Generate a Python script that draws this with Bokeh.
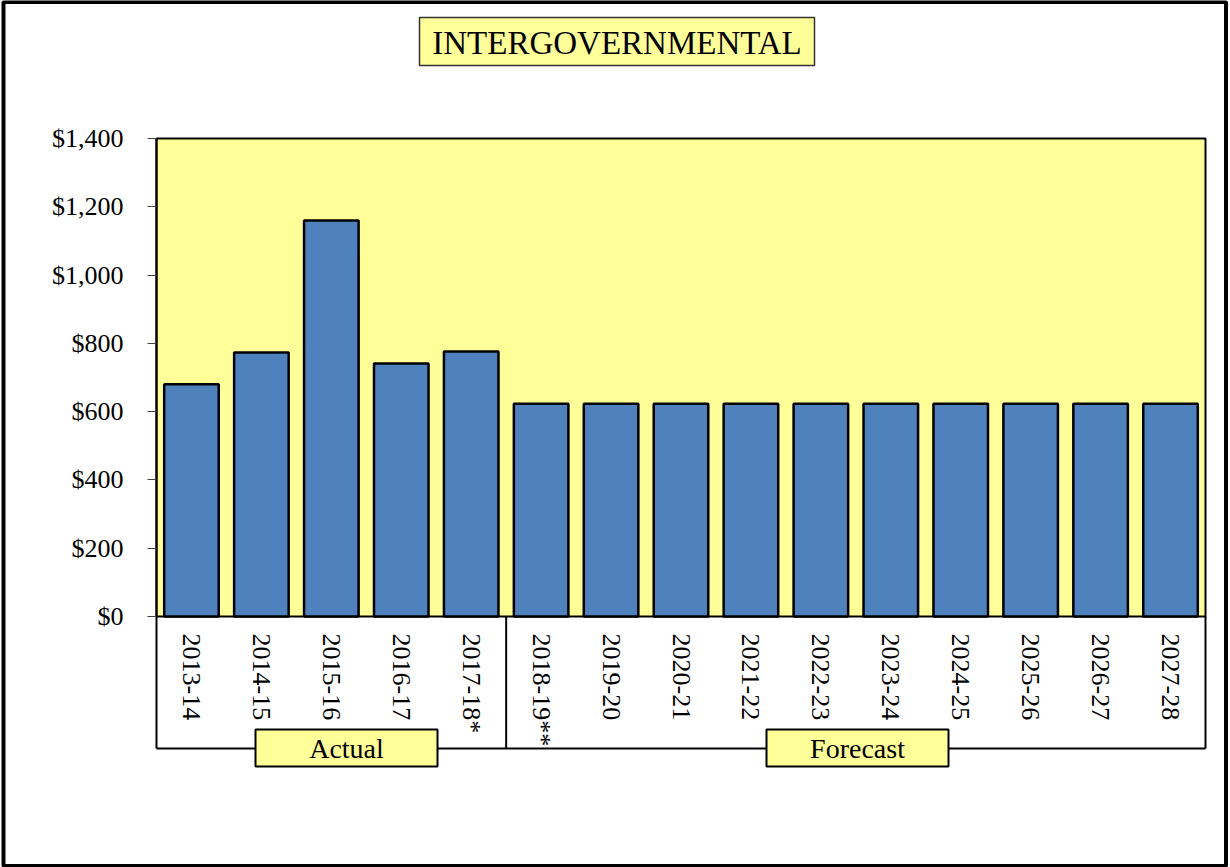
import math
from bokeh.plotting import figure
from bokeh.models import (Range1d, FixedTicker, NumeralTickFormatter, ColumnDataSource)
from bokeh.core.properties import value
from bokeh.embed import file_html
from bokeh.resources import INLINE

# ---- data ----
years = ["2013-14", "2014-15", "2015-16", "2016-17", "2017-18*",
         "2018-19**", "2019-20", "2020-21", "2021-22", "2022-23",
         "2023-24", "2024-25", "2025-26", "2026-27", "2027-28"]
values = [680, 773, 1160, 741, 776,
          623, 623, 623, 623, 623,
          623, 623, 623, 623, 623]
groups = ["Actual", "Forecast"]
group_sizes = [5, 10]
y_ticks = [0, 200, 400, 600, 800, 1000, 1200, 1400]
title_text = "INTERGOVERNMENTAL"

# ---- layout (pixels) ----
W, H = 1230, 867
FL, FR, FT, FB = 156, 1205, 138, 616
YMAX = 1400
FONT = "Liberation Serif"
YELLOW = "#FFFF99"
BLUE = "#4F81BD"

n = len(years)
cw = (FR - FL) / n
ys = (FB - FT) / YMAX
def dx(px):
    return (px - FL) / cw
def dy(py):
    return (FB - py) / ys

p = figure(width=W, height=H, title=None,
           x_range=Range1d(dx(0), dx(W)),
           y_range=Range1d(dy(H), dy(0)),
           output_backend="svg", toolbar_location=None,
           min_border=0, min_border_left=0, min_border_right=0,
           min_border_top=0, min_border_bottom=0,
           background_fill_color="white", border_fill_color="white",
           outline_line_color=None)
p.grid.visible = False

# plot area
p.quad(left=[0], right=[n], bottom=[0], top=[YMAX],
       fill_color=YELLOW, line_color="black", line_width=2)

# bars
xpos = [i + 0.5 for i in range(n)]
src = ColumnDataSource(dict(x=xpos, year=years, value=values))
p.vbar(x="x", top="value", width=0.78, source=src,
       fill_color=BLUE, line_color="black", line_width=2.5)

# y axis (fixed at x=0)
ya = p.yaxis[0]
ya.fixed_location = 0
ya.bounds = (0, YMAX)
ya.ticker = FixedTicker(ticks=y_ticks, minor_ticks=[])
ya.formatter = NumeralTickFormatter(format="$0,0")
ya.major_tick_out = 9
ya.major_tick_in = 0
ya.minor_tick_out = 0
ya.minor_tick_in = 0
ya.major_tick_line_color = "#404040"
ya.axis_line_color = "black"
ya.axis_line_width = 2
ya.major_label_standoff = 24
ya.major_label_text_font = FONT
ya.major_label_text_font_size = "26px"
ya.major_label_text_color = "black"

# x axis (fixed at y=0)
xa = p.xaxis[0]
xa.fixed_location = 0
xa.bounds = (0, n)
xa.ticker = FixedTicker(ticks=xpos, minor_ticks=[])
xa.major_label_overrides = {x: y for x, y in zip(xpos, years)}
xa.major_label_orientation = -math.pi / 2
xa.major_tick_line_color = None
xa.major_tick_out = 0
xa.major_tick_in = 0
xa.minor_tick_out = 0
xa.minor_tick_in = 0
xa.axis_line_color = None
xa.major_label_standoff = 17
xa.major_label_text_font = FONT
xa.major_label_text_font_size = "26px"
xa.major_label_text_color = "black"

# group bracket
yb = dy(748)
bounds = [0]
for g in group_sizes:
    bounds.append(bounds[-1] + g)
seg_x0 = bounds + [0]
seg_x1 = bounds + [n]
seg_y0 = [0] * len(bounds) + [yb]
seg_y1 = [yb] * len(bounds) + [yb]
p.segment(x0=seg_x0, y0=seg_y0, x1=seg_x1, y1=seg_y1,
          line_color="black", line_width=2)

# group label boxes
group_centers_px = [346, 857]
half_w = 91
p.quad(left=[dx(c - half_w) for c in group_centers_px],
       right=[dx(c + half_w) for c in group_centers_px],
       top=[dy(729)] * len(groups), bottom=[dy(766)] * len(groups),
       fill_color=YELLOW, line_color="black", line_width=2)
p.text(x=[dx(c) for c in group_centers_px], y=[dy(748)] * len(groups), text=groups,
       text_align="center", text_baseline="middle",
       text_font=value(FONT), text_font_size="28px", text_color="black")

# title box
p.quad(left=[dx(419)], right=[dx(814)], top=[dy(17)], bottom=[dy(65)],
       fill_color=YELLOW, line_color="#333333", line_width=1.5)
p.text(x=[dx(616.5)], y=[dy(42)], text=[title_text],
       text_align="center", text_baseline="middle",
       text_font=value(FONT), text_font_size="33px", text_color="black")

# outer border
p.quad(left=[dx(3)], right=[dx(1225.5)], top=[dy(1.5)], bottom=[dy(865.5)],
       fill_alpha=0, line_color="black", line_width=4)

open("out.html", "w").write(file_html(p, INLINE))
